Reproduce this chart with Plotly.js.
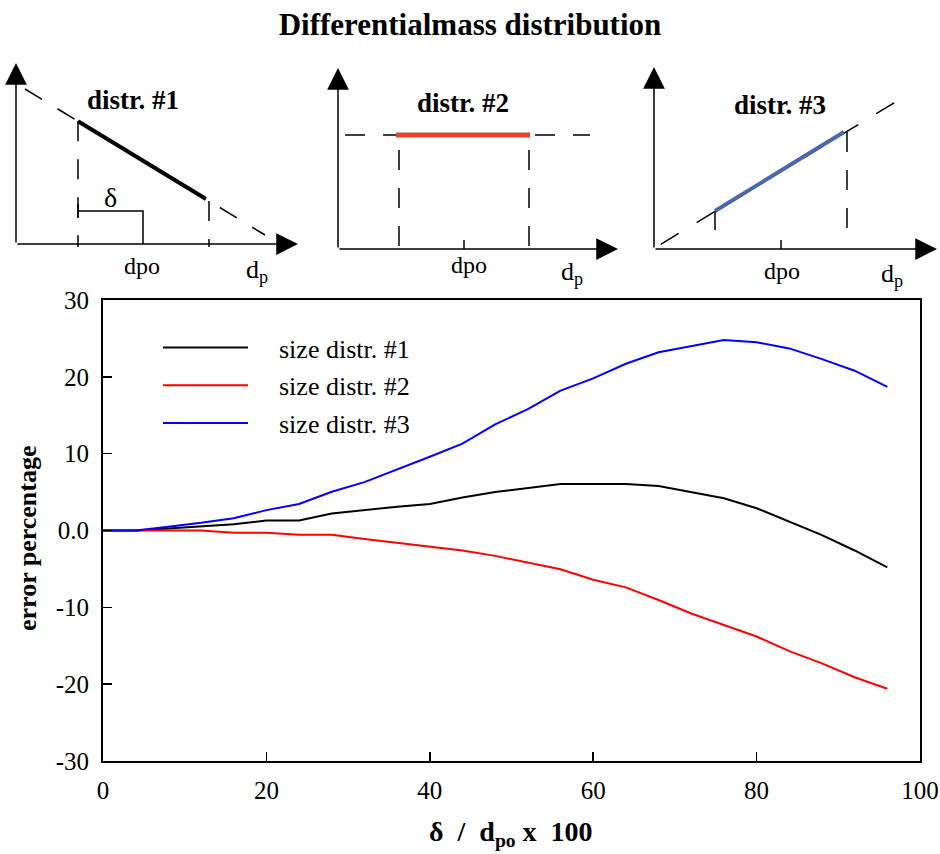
<!DOCTYPE html>
<html><head><meta charset="utf-8">
<script src="https://cdn.plot.ly/plotly-3.0.1.min.js"></script>
<style>html,body{margin:0;padding:0;background:#fff}#chart{width:940px;height:854px}</style>
</head><body><div id="chart"></div>
<script>
const W = 940, H = 854;
const FONT = 'Liberation Serif, Times New Roman, serif';

// ---- main chart data ----
const ratioPct = [0,4,8,12,16,20,24,28,32,36,40,44,48,52,56,60,64,68,72,76,80,84,88,92,96];
const errDistr1 = [0,0,0.25,0.55,0.8,1.3,1.3,2.2,2.65,3.1,3.45,4.3,5.0,5.5,6.05,6.05,6.05,5.8,5.0,4.2,2.9,1.2,-0.6,-2.6,-4.8];
const errDistr2 = [0,0,0,0,-0.28,-0.28,-0.55,-0.55,-1.1,-1.6,-2.1,-2.6,-3.3,-4.2,-5.05,-6.4,-7.4,-9.05,-10.8,-12.3,-13.8,-15.7,-17.3,-19.1,-20.6];
const errDistr3 = [0,0,0.5,1.0,1.6,2.65,3.45,5.05,6.3,7.9,9.6,11.3,13.8,15.8,18.2,19.8,21.7,23.2,24.0,24.8,24.5,23.7,22.3,20.8,18.7];
const seriesNames = ['size distr. #1','size distr. #2','size distr. #3'];
const xTickVals = [0,20,40,60,80,100];
const xTickText = ['0','20','40','60','80','100'];
const yTickVals = [-30,-20,-10,0,10,20,30];
const yTickText = ['-30','-20','-10','0.0','10','20','30'];

// ---- schematic insets (diagram units) ----
// inset 1: decreasing distribution
const d1CurveX = [9,249],   d1CurveY = [155,9];
const d1SegX = [62,190],    d1SegY = [122.8,45];
const d1LeftX = [62,62],    d1LeftY = [122.8,-3];
const d1RightX = [193,193], d1RightY = [43,-3];
const d1DeltaX = [62,127,127], d1DeltaY = [33,33,0];
const d1DeltaEndX = [62,62], d1DeltaEndY = [26,40];
// inset 2: constant distribution
const d2CurveX = [7,252],   d2CurveY = [114,114];
const d2SegX = [58,192],    d2SegY = [114,114];
const d2LeftX = [61,61],    d2LeftY = [99,-3];
const d2RightX = [191,191], d2RightY = [99,-3];
const d2TickX = [126,126],  d2TickY = [0,9];
// inset 3: increasing distribution
const d3CurveX = [6.7,246], d3CurveY = [4.7,149.7];
const d3SegX = [61,190],    d3SegY = [38,117];
const d3LeftX = [61,61],    d3LeftY = [38,19];
const d3RightX = [193,193], d3RightY = [117,16];
const d3TickX = [127,127],  d3TickY = [0,9];

const traces = [];
const mainYs = [errDistr1, errDistr2, errDistr3];
const mainColors = ['#000000','#ff0000','#0000ff'];
mainYs.forEach((ys,i)=>{
  traces.push({x: ratioPct, y: ys, type:'scatter', mode:'lines', name: '\u00a0\u00a0\u00a0\u00a0' + seriesNames[i],
    legendgroup: 'g'+i, line:{color: mainColors[i], width: 2}, xaxis:'x', yaxis:'y'});
});

function seg(xs, ys, ax, color, width, dash){
  traces.push({x: xs, y: ys, type:'scatter', mode:'lines', showlegend:false, hoverinfo:'skip',
    xaxis:'x'+ax, yaxis:'y'+ax, line:{color: color, width: width, dash: dash||'solid'}});
}
const DASH = '20px,18px';
seg(d1CurveX, d1CurveY, 2, '#000', 1.5, DASH);
seg(d1SegX, d1SegY, 2, '#000', 4);
seg(d1LeftX, d1LeftY, 2, '#000', 1.5, DASH);
seg(d1RightX, d1RightY, 2, '#000', 1.5, DASH);
seg(d1DeltaX, d1DeltaY, 2, '#000', 1.5);
seg(d1DeltaEndX, d1DeltaEndY, 2, '#000', 1.5);

seg(d2CurveX, d2CurveY, 3, '#000', 1.5, DASH);
seg(d2SegX, d2SegY, 3, '#e2472f', 5);
seg(d2LeftX, d2LeftY, 3, '#000', 1.5, DASH);
seg(d2RightX, d2RightY, 3, '#000', 1.5, DASH);
seg(d2TickX, d2TickY, 3, '#000', 1.5);

seg(d3CurveX, d3CurveY, 4, '#000', 1.5, '21px,21px');
seg(d3SegX, d3SegY, 4, '#4a68b0', 4);
seg(d3LeftX, d3LeftY, 4, '#000', 1.5);
seg(d3RightX, d3RightY, 4, '#000', 1.5, DASH);
seg(d3TickX, d3TickY, 4, '#000', 1.5);

const annotations = [];
function arrow(ax, tipX, tipY){
  annotations.push({xref:'x'+ax, yref:'y'+ax, axref:'x'+ax, ayref:'y'+ax, x: tipX, y: tipY, ax: 0, ay: 0,
    text:'', showarrow:true, arrowhead:2, arrowsize:2.9, arrowwidth:1.5, arrowcolor:'#000', standoff:0});
}
arrow(2, 282, 0); arrow(2, 0, 181);
arrow(3, 280, 0); arrow(3, 0, 181);
arrow(4, 283, 0); arrow(4, 0, 182);

function label(ax, x, y, text, size){
  annotations.push({xref:'x'+ax, yref:'y'+ax, x: x, y: y, text: text, showarrow:false,
    xanchor:'center', yanchor:'middle', font:{family: FONT, size: size, color:'#000'}});
}
label(2, 117, 144, '<b>distr. #1</b>', 27);
label(2, 94, 46, 'δ', 28);
label(2, 126, -22, 'dpo', 24);
label(2, 241, -27, 'd<sub>p</sub>', 26);
label(3, 125, 146, '<b>distr. #2</b>', 27);
label(3, 131, -16, 'dpo', 24);
label(3, 234, -24, 'd<sub>p</sub>', 26);
label(4, 126, 144, '<b>distr. #3</b>', 27);
label(4, 128, -22, 'dpo', 24);
label(4, 238, -26, 'd<sub>p</sub>', 26);

// axis titles
annotations.push({xref:'paper', yref:'paper', x: 27/W, y: 1-538/H, text:'<b>error percentage</b>', textangle:-90,
  showarrow:false, xanchor:'center', yanchor:'middle', font:{family: FONT, size: 26, color:'#000'}});
annotations.push({xref:'paper', yref:'paper', x: 511/W, y: 1-833/H, text:'<b>δ  /  d<sub>po</sub> x  100</b>',
  showarrow:false, xanchor:'center', yanchor:'middle', font:{family: FONT, size: 28, color:'#000'}});

const hidden = (dom, rng)=>({domain: dom, range: rng, visible:false, fixedrange:true});
const layout = {
  width: W, height: H,
  margin:{l:0, r:0, t:0, b:0},
  paper_bgcolor:'#fff', plot_bgcolor:'rgba(0,0,0,0)',
  showlegend: true,
  title:{text:'<b>Differentialmass distribution</b>', x:0.5, xanchor:'center', y: 1-24/H, yanchor:'middle',
    font:{family: FONT, size: 31, color:'#000'}},
  xaxis:{domain:[103/W, 920/W], range:[0,100], tickvals:xTickVals, ticktext:xTickText, ticks:'inside', ticklen:9, tickwidth:1.5,
    tickcolor:'#000', showline:true, linewidth:2, linecolor:'#000', mirror:true, showgrid:false, zeroline:false,
    tickfont:{family: FONT, size: 25, color:'#000'}, ticklabelstandoff: 6, anchor:'y', fixedrange:true},
  yaxis:{domain:[93/H, 554/H], range:[-30,30], tickvals:yTickVals, ticktext:yTickText, ticks:'inside', ticklen:9, tickwidth:1.5,
    tickcolor:'#000', showline:true, linewidth:2, linecolor:'#000', mirror:true, showgrid:false, zeroline:false,
    tickfont:{family: FONT, size: 25, color:'#000'}, ticklabelstandoff: 7, anchor:'x', fixedrange:true},
  xaxis2: Object.assign(hidden([0, 310/W], [-16, 294]), {anchor:'y2'}),
  yaxis2: Object.assign(hidden([1-290/H, 1-50/H], [-46, 194]), {anchor:'x2'}),
  xaxis3: Object.assign(hidden([320/W, 630/W], [-18, 292]), {anchor:'y3'}),
  yaxis3: Object.assign(hidden([1-290/H, 1-50/H], [-41, 199]), {anchor:'x3'}),
  xaxis4: Object.assign(hidden([630/W, 1], [-24, 286]), {anchor:'y4'}),
  yaxis4: Object.assign(hidden([1-290/H, 1-50/H], [-41, 199]), {anchor:'x4'}),
  legend:{x: 158/W, y: 1-324/H, xanchor:'left', yanchor:'top', bgcolor:'rgba(0,0,0,0)', borderwidth:0,
    font:{family: FONT, size: 26, color:'#000'}, itemwidth: 85, traceorder:'grouped', tracegroupgap: 1},
  annotations: annotations
};
Plotly.newPlot('chart', traces, layout, {staticPlot:true, displayModeBar:false});
</script></body></html>
